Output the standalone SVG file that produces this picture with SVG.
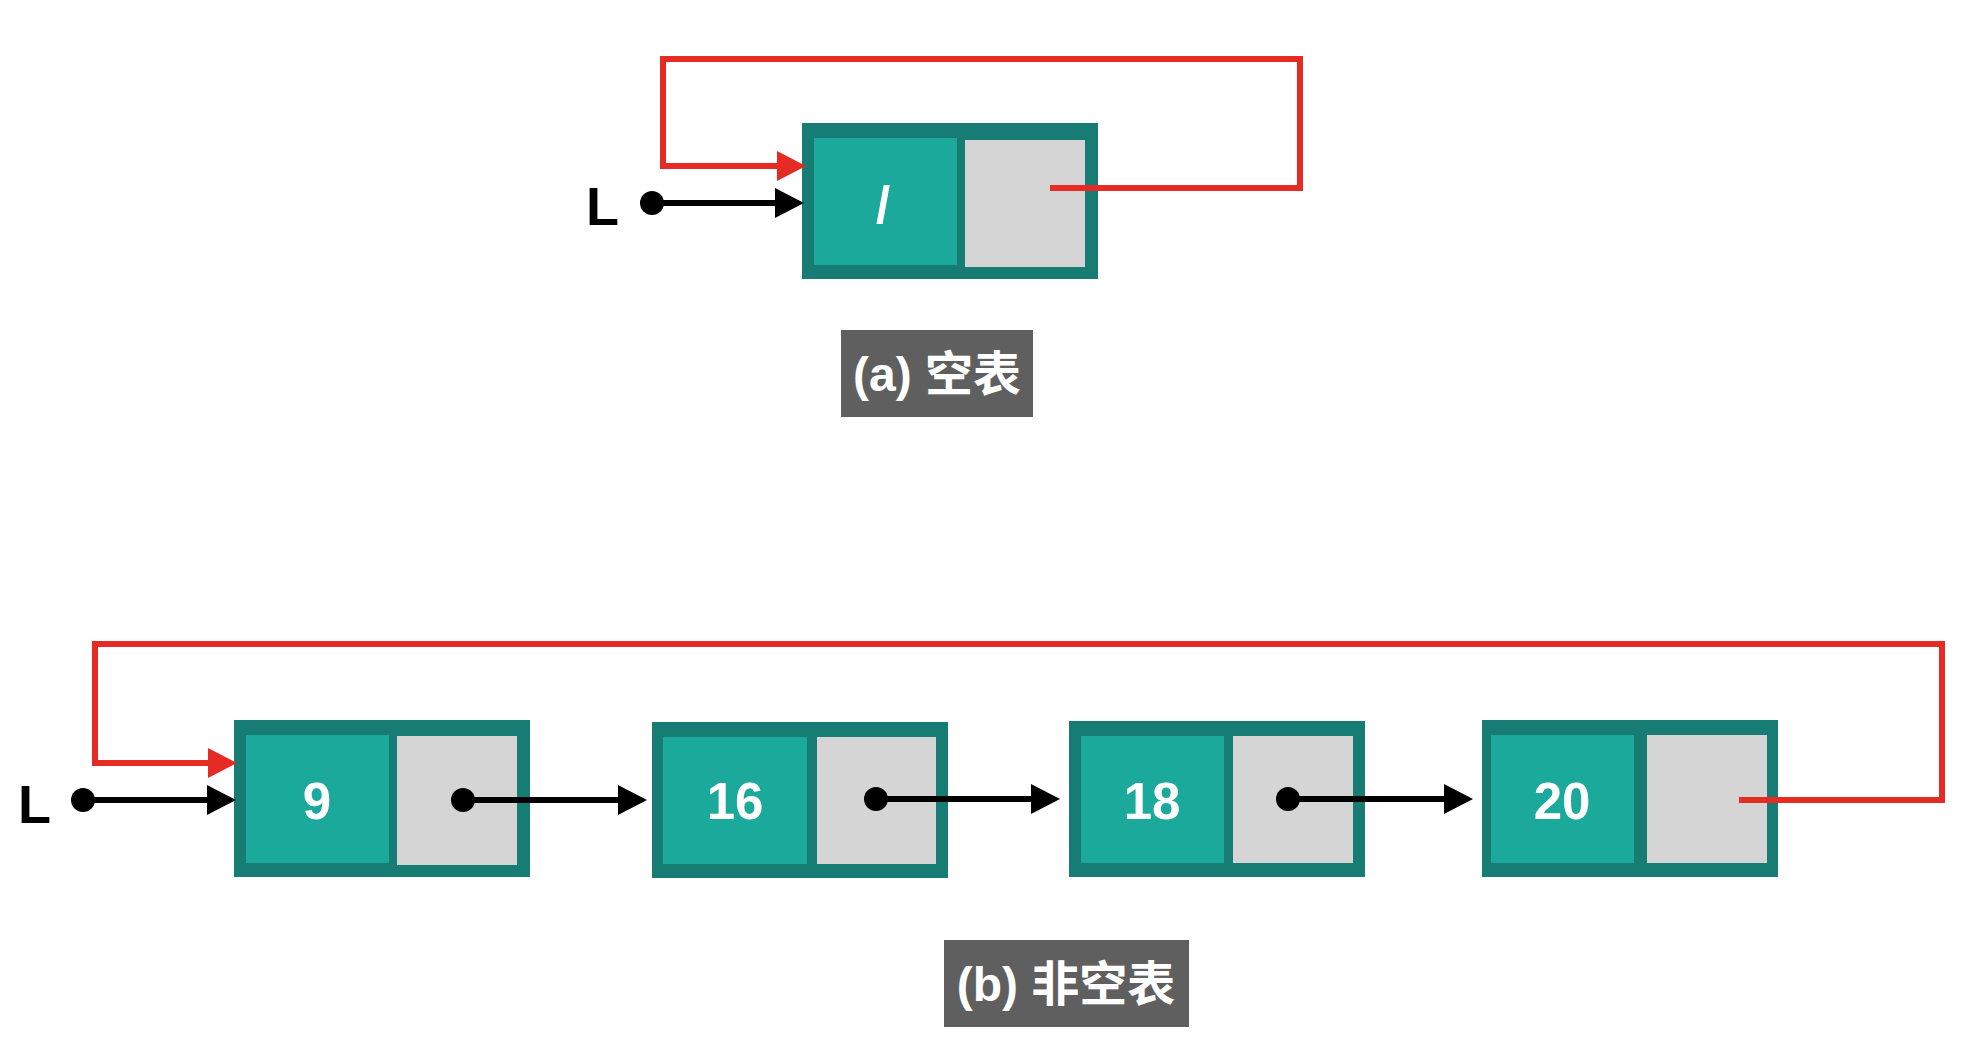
<svg xmlns="http://www.w3.org/2000/svg" width="1964" height="1038" viewBox="0 0 1964 1038">
  <style>
    .outer { fill: #177c74; }
    .data { fill: #1aa99a; }
    .ptr { fill: #d5d5d5; }
    .val { font-family: "Liberation Sans", Arial, sans-serif; font-weight: bold; font-size: 51px; fill: #ffffff; text-anchor: middle; }
    .lbl { font-family: "Liberation Sans", Arial, sans-serif; font-weight: bold; font-size: 54px; fill: #000000; }
    .capbox { fill: #5f5f5f; }
    .cap { font-family: "Liberation Sans", "Noto Sans CJK SC", sans-serif; font-weight: bold; font-size: 48px; fill: #ffffff; text-anchor: middle; }
    .blk { stroke: #000000; stroke-width: 6; fill: none; }
    .red { stroke: #e62a24; stroke-width: 6; fill: none; }
  </style>
  <defs>
    <marker id="ah-black" markerUnits="userSpaceOnUse" markerWidth="30" markerHeight="30" viewBox="0 0 30 30" refX="5" refY="15" orient="auto">
      <path d="M0,0 L29,15 L0,30 z" fill="#000000"/>
    </marker>
    <marker id="ah-red" markerUnits="userSpaceOnUse" markerWidth="30" markerHeight="30" viewBox="0 0 30 30" refX="5" refY="15" orient="auto">
      <path d="M0,0 L29,15 L0,30 z" fill="#e62a24"/>
    </marker>
  </defs>
  <rect width="1964" height="1038" fill="#ffffff"/>

  <!-- (a) empty list -->
  <g id="node-a-head">
    <rect class="outer" x="802" y="123" width="296" height="156"/>
    <rect class="data" x="814" y="138" width="143" height="127"/>
    <rect class="ptr" x="965" y="140" width="120" height="127"/>
    <text class="val" x="883" y="223">/</text>
  </g>
  <g id="label-a-L">
    <text class="lbl" x="586" y="225">L</text>
  </g>
  <g id="caption-a">
    <rect class="capbox" x="841" y="330" width="192" height="87"/>
    <text class="cap" x="937" y="391">(a) 空表</text>
  </g>

  <!-- (b) non-empty list -->
  <g id="node-b-9">
    <rect class="outer" x="234" y="720" width="296" height="157"/>
    <rect class="data" x="246" y="735" width="143" height="128"/>
    <rect class="ptr" x="397" y="736" width="120" height="129"/>
    <text class="val" x="317" y="819">9</text>
  </g>
  <g id="node-b-16">
    <rect class="outer" x="652" y="722" width="296" height="156"/>
    <rect class="data" x="663" y="737" width="144" height="127"/>
    <rect class="ptr" x="817" y="737" width="119" height="127"/>
    <text class="val" x="735" y="819">16</text>
  </g>
  <g id="node-b-18">
    <rect class="outer" x="1069" y="721" width="296" height="156"/>
    <rect class="data" x="1081" y="736" width="143" height="127"/>
    <rect class="ptr" x="1233" y="736" width="120" height="127"/>
    <text class="val" x="1152" y="819">18</text>
  </g>
  <g id="node-b-20">
    <rect class="outer" x="1482" y="720" width="296" height="157"/>
    <rect class="data" x="1491" y="735" width="143" height="128"/>
    <rect class="ptr" x="1647" y="735" width="120" height="128"/>
    <text class="val" x="1562" y="819">20</text>
  </g>
  <g id="label-b-L">
    <text class="lbl" x="18" y="823">L</text>
  </g>
  <g id="caption-b">
    <rect class="capbox" x="944" y="940" width="245" height="87"/>
    <text class="cap" x="1066" y="1001">(b) 非空表</text>
  </g>

  <g id="connectors">
    <!-- (a) -->
    <path class="red" d="M1050,188 H1300 V59 H663 V166 H782" marker-end="url(#ah-red)"/>
    <circle cx="652" cy="203" r="12" fill="#000000"/>
    <path class="blk" d="M652,203 H780" marker-end="url(#ah-black)"/>
    <!-- (b) -->
    <path class="red" d="M1739,800 H1942 V644 H95 V763 H213" marker-end="url(#ah-red)"/>
    <circle cx="83" cy="800" r="12" fill="#000000"/>
    <path class="blk" d="M83,800 H212" marker-end="url(#ah-black)"/>
    <circle cx="463" cy="800" r="12" fill="#000000"/>
    <path class="blk" d="M463,800 H623" marker-end="url(#ah-black)"/>
    <circle cx="876" cy="799" r="12" fill="#000000"/>
    <path class="blk" d="M876,799 H1036" marker-end="url(#ah-black)"/>
    <circle cx="1288" cy="799" r="12" fill="#000000"/>
    <path class="blk" d="M1288,799 H1449" marker-end="url(#ah-black)"/>
  </g>
</svg>
